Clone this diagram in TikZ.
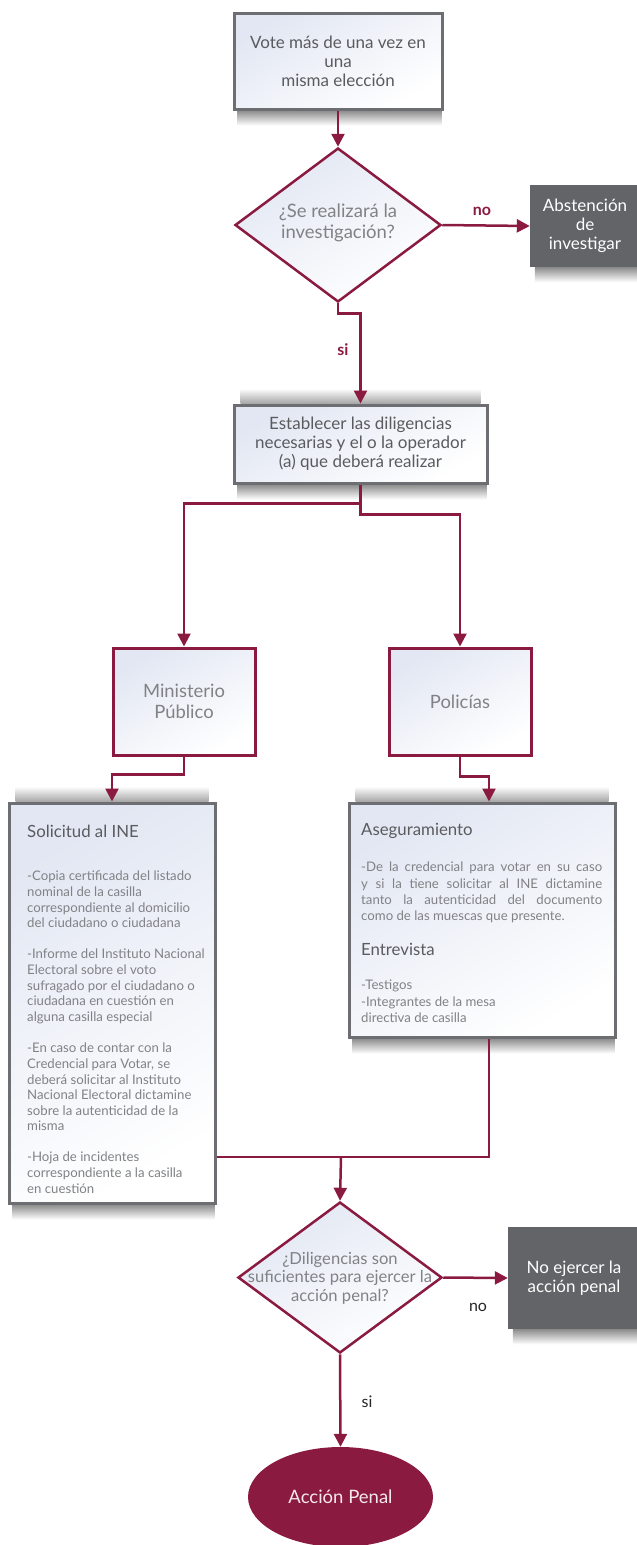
\documentclass[tikz,border=0pt]{standalone}
\usepackage{fontspec}
\setmainfont{Lato}
\usetikzlibrary{arrows.meta,shapes.geometric,backgrounds}
\definecolor{burg}{HTML}{8B1A40}
\definecolor{bgray}{HTML}{6D6E71}
\definecolor{tgray}{HTML}{5A5B5E}
\definecolor{lgray}{HTML}{808285}
\definecolor{dbox}{HTML}{636467}
\definecolor{sky}{HTML}{E2E7F3}
\newcommand\shbelow[1]{\shade[top color=black!45,bottom color=white] ([xshift=5pt]#1.south west) rectangle ([xshift=-2pt,yshift=-15pt]#1.south east);}
\newcommand\shabove[1]{\shade[top color=white,bottom color=black!35] ([xshift=8pt]#1.north west) rectangle ([xshift=-8pt,yshift=15pt]#1.north east);}
\tikzset{
 gbox/.style={draw=bgray, line width=3pt, top color=sky, bottom color=white, shading angle=30, inner sep=0pt, align=center, text=tgray, font=\fontsize{17}{19}\selectfont},
 rbox/.style={draw=burg, line width=3pt, top color=sky, bottom color=white, shading angle=30, inner sep=0pt, align=center, text=lgray, font=\fontsize{18.4}{21}\selectfont},
 dkbox/.style={fill=dbox, inner sep=0pt, align=center, text=white, font=\fontsize{17}{19}\selectfont},
 dia/.style={diamond, draw=burg, line width=2.5pt, top color=sky, bottom color=white, shading angle=30, inner sep=0pt},
 diatext/.style={align=center, text=lgray},
 conn/.style={draw=burg, line width=2.5pt},
 arr/.style={conn, -{Triangle[length=13pt,width=13pt]}},
 para/.style={anchor=north west, inner sep=0pt, align=left, text=lgray, font=\fontsize{13.2}{16.2}\selectfont},
 spara/.style={para, font=\fontsize{13.2}{15.6}\selectfont},
 ttl/.style={anchor=north west, inner sep=0pt, text=tgray, font=\fontsize{16.8}{19}\selectfont},
 lbl/.style={inner sep=0pt, font=\fontsize{16}{19}\selectfont},
}
\begin{document}
\begin{tikzpicture}[x=1pt,y=-1pt]
\useasboundingbox (0,0) rectangle (637,1545);
% nodes
\node[gbox, minimum width=208pt, minimum height=96pt] (b1) at (338,61) {Vote más de una vez en\\una\\misma elección};
\node[dia, minimum width=206pt, minimum height=154pt] (d1) at (338,225) {};
\node[diatext, font=\fontsize{18.5}{21}\selectfont] (d1t) at (338,222.5) {¿Se realizará la\\investigación?};
\node[dkbox, minimum width=110pt, minimum height=82pt] (abst) at (585,226) {Abstención\\de\\investigar};
\node[gbox, minimum width=253pt, minimum height=78pt] (b2) at (360.5,444) {Establecer las diligencias\\necesarias y el o la operador\\(a) que deberá realizar};
\node[rbox, minimum width=142pt, minimum height=107pt] (mp) at (184,701.5) {Ministerio\\Público};
\node[rbox, minimum width=142pt, minimum height=107pt] (pol) at (460,701.5) {Policías};
\node[gbox, minimum width=206pt, minimum height=400pt] (sol) at (112,1003) {};
\node[gbox, minimum width=266pt, minimum height=234pt] (ase) at (482,920) {};
\node[dia, minimum width=204pt, minimum height=151pt] (d2) at (340,1277.5) {};
\node[diatext, font=\fontsize{16.6}{18.5}\selectfont] (d2t) at (340,1278) {¿Diligencias son\\suficientes para ejercer la\\acción penal?};
\node[dkbox, minimum width=132pt, minimum height=102pt] (noej) at (574,1278) {No ejercer la\\acción penal};
\node[ellipse, fill=burg, text=white!90!burg, minimum width=185pt, minimum height=100pt, inner sep=0pt, font=\fontsize{18.5}{21}\selectfont] (ell) at (340.5,1497) {Acción Penal};
% shadows
\begin{scope}[on background layer]
\shbelow{b1}
\shabove{b2}\shbelow{b2}
\shabove{sol}\shbelow{sol}
\shabove{ase}\shbelow{ase}
\shbelow{abst}\shbelow{noej}
\end{scope}
% Solicitud text
\node[ttl] (solt) at (27,825) {Solicitud al INE};
\node[spara] (sp1) at (27,871) {-Copia certificada del listado\\nominal de la casilla\\correspondiente al domicilio\\del ciudadano o ciudadana};
\node[spara] (sp2) at (27,949) {-Informe del Instituto Nacional\\Electoral sobre el voto\\sufragado por el ciudadano o\\ciudadana en cuestión en\\alguna casilla especial};
\node[spara] (sp3) at (27,1043) {-En caso de contar con la\\Credencial para Votar, se\\deberá solicitar al Instituto\\Nacional Electoral dictamine\\sobre la autenticidad de la\\misma};
\node[spara] (sp4) at (27,1152) {-Hoja de incidentes\\correspondiente a la casilla\\en cuestión};
% Aseguramiento text
\node[ttl] (aset) at (361,823) {Aseguramiento};
\node[para, text width=241pt, align=justify] (ap1) at (361,862) {-De la credencial para votar en su caso\linebreak y si la tiene solicitar al INE dictamine\linebreak tanto la autenticidad del documento\linebreak como de las muescas que presente.};
\node[ttl] (ent) at (361,943) {Entrevista};
\node[para] (ap2) at (361,980) {-Testigos\\-Integrantes de la mesa\\directiva de casilla};
% labels
\node[lbl, text=burg, font=\fontsize{16}{19}\selectfont\bfseries] (no1) at (482,211) {no};
\node[lbl, text=burg, font=\fontsize{16}{19}\selectfont\bfseries] (si1) at (343,350) {si};
\node[lbl, text=black!85] (no2) at (478,1307) {no};
\node[lbl, text=black!85] (si2) at (367,1402) {si};
% connectors
\draw[arr] (b1.south) -- (d1.north);
\draw[arr] (d1.east) -- (abst.west);
\draw[arr] (d1.south) -- ++(0,10) -| (b2.north);
\draw[arr] (b2.south) -- ++(0,19) -| (mp.north);
\draw[arr] (b2.south) -- ++(0,30) -| (pol.north);
\draw[arr] (mp.south) -- ++(0,18) -| (sol.north);
\draw[arr] (pol.south) -- ++(0,20) -| ([xshift=7pt]ase.north);
\coordinate (j) at (341,1157);
\draw[conn] ([xshift=7pt]ase.south) |- (j -| sol.east);
\draw[arr] (j) -- (d2.north);
\draw[arr] (d2.east) -- (noej.west);
\draw[arr] (d2.south) -- (ell.north);
\end{tikzpicture}
\end{document}
